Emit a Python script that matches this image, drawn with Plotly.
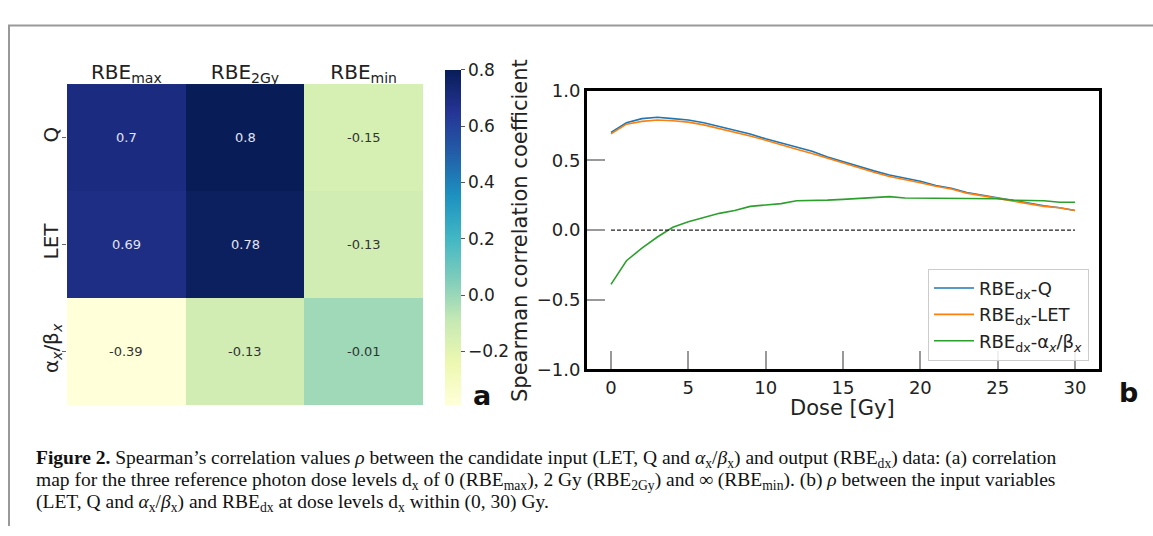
import plotly.graph_objects as go
import plotly.express as px

W, H = 1153, 536

# ---------------- data ----------------
heat_cols = ["RBE<sub>max</sub>", "RBE<sub>2Gy</sub>", "RBE<sub>min</sub>"]
heat_rows = ["Q", "LET", "α<sub><i>x</i></sub>/β<sub><i>x</i></sub>"]
heat_q = [0.70, 0.80, -0.15]
heat_let = [0.69, 0.78, -0.13]
heat_ab = [-0.39, -0.13, -0.01]
heat_labels = [["0.7", "0.8", "-0.15"], ["0.69", "0.78", "-0.13"], ["-0.39", "-0.13", "-0.01"]]
cbar_ticks = [-0.2, 0.0, 0.2, 0.4, 0.6, 0.8]

doses = list(range(0, 31))
rbe_q = [0.70, 0.77, 0.80, 0.81, 0.80, 0.79, 0.77, 0.745, 0.72, 0.69, 0.655,
         0.625, 0.595, 0.565, 0.525, 0.49, 0.455, 0.425, 0.395, 0.375, 0.35,
         0.32, 0.30, 0.27, 0.25, 0.23, 0.21, 0.195, 0.175, 0.16, 0.14]
rbe_let = [0.69, 0.76, 0.78, 0.79, 0.785, 0.775, 0.755, 0.73, 0.70, 0.675, 0.645,
           0.61, 0.58, 0.55, 0.515, 0.48, 0.45, 0.415, 0.385, 0.365, 0.34,
           0.315, 0.295, 0.265, 0.245, 0.225, 0.205, 0.19, 0.17, 0.16, 0.14]
rbe_ab = [-0.39, -0.22, -0.13, -0.05, 0.02, 0.06, 0.09, 0.12, 0.14, 0.17, 0.18,
          0.19, 0.21, 0.21, 0.215, 0.22, 0.225, 0.23, 0.24, 0.23, 0.23,
          0.23, 0.23, 0.23, 0.23, 0.225, 0.215, 0.215, 0.21, 0.20, 0.20]
line_names = ["RBE<sub>dx</sub>-Q", "RBE<sub>dx</sub>-LET",
              "RBE<sub>dx</sub>-α<sub><i>x</i></sub>/β<sub><i>x</i></sub>"]
line_colors = ["#1f77b4", "#ff7f0e", "#2ca02c"]
y_ticks = [-1.0, -0.5, 0.0, 0.5, 1.0]
x_ticks = [0, 5, 10, 15, 20, 25, 30]

caption_lines = [
    "<b>Figure 2.</b> Spearman’s correlation values <i>ρ</i> between the candidate input (LET, Q and <i>α</i><sub>x</sub>/<i>β</i><sub>x</sub>) and output (RBE<sub>dx</sub>) data: (a) correlation",
    "map for the three reference photon dose levels d<sub>x</sub> of 0 (RBE<sub>max</sub>), 2 Gy (RBE<sub>2Gy</sub>) and ∞ (RBE<sub>min</sub>). (b) <i>ρ</i> between the input variables",
    "(LET, Q and <i>α</i><sub>x</sub>/<i>β</i><sub>x</sub>) and RBE<sub>dx</sub> at dose levels d<sub>x</sub> within (0, 30) Gy.",
]


def px_x(p):
    return p / W


def px_y(p):
    return 1 - p / H


z = [heat_q, heat_let, heat_ab]
zmin = min(min(r) for r in z)
zmax = max(max(r) for r in z)

fig = go.Figure()

fig.add_trace(go.Heatmap(
    z=z, x=heat_cols, y=heat_rows,
    colorscale=px.colors.sequential.YlGnBu,
    zmin=zmin, zmax=zmax,
    xaxis="x", yaxis="y",
    hoverinfo="skip",
    colorbar=dict(
        x=px_x(445), xanchor="left", y=px_y(410), yanchor="bottom",
        xpad=0, ypad=0,
        lenmode="pixels", len=335, thickness=16,
        thicknessmode="pixels", outlinewidth=0,
        tickvals=cbar_ticks, tickformat=".1f",
        ticks="outside", ticklen=4, tickcolor="#555", tickwidth=1,
        tickfont=dict(size=17, color="#222", family="DejaVu Sans"),
    ),
))

annotations = []
for i, r in enumerate(heat_rows):
    for j, c in enumerate(heat_cols):
        v = z[i][j]
        col = "#e4e4f2" if v > 0.3 else "#333333"
        annotations.append(dict(x=c, y=r, xref="x", yref="y", text=heat_labels[i][j],
                                showarrow=False, font=dict(size=13, color=col, family="DejaVu Sans")))

for name, vals, colr in zip(line_names, [rbe_q, rbe_let, rbe_ab], line_colors):
    fig.add_trace(go.Scatter(x=doses, y=vals, mode="lines", name=name,
                             line=dict(color=colr, width=1.6),
                             xaxis="x2", yaxis="y2"))

fig.add_trace(go.Scatter(x=[doses[0], doses[-1]], y=[0, 0], mode="lines",
                         line=dict(color="#222", width=1.2, dash="4px,2px"),
                         showlegend=False, xaxis="x2", yaxis="y2", hoverinfo="skip"))

# axis titles and panel letters (pixel positions)
extra = [
    (520, 229, "Spearman correlation coefficient", 21, -90, "#222"),
    (842, 413, "Dose [Gy]", 21, 0, "#222"),
    (482, 400, "<b>a</b>", 27, 0, "#111"),
    (1128, 397, "<b>b</b>", 27, 0, "#111"),
]
for xp, yp, txt, sz, ang, colr in extra:
    annotations.append(dict(x=px_x(xp), y=px_y(yp), xref="paper", yref="paper",
                            xanchor="center", yanchor="middle", text=txt, textangle=ang,
                            showarrow=False, borderpad=0, font=dict(size=sz, color=colr)))

for k, line in enumerate(caption_lines):
    annotations.append(dict(x=px_x(35), y=px_y(466 + 23 * k), xref="paper", yref="paper",
                            xanchor="left", yanchor="middle", align="left", showarrow=False,
                            borderpad=0,
                            text=line, font=dict(size=19.5, color="#111", family="Liberation Serif")))

shapes = [
    dict(type="path", xref="paper", yref="paper",
         path=f"M {px_x(9)} 0 L {px_x(9)} {px_y(15)} L 1 {px_y(15)}",
         line=dict(color="#999999", width=2)),
]

fig.update_layout(
    width=W, height=H, autosize=False,
    margin=dict(l=0, r=0, t=0, b=0),
    paper_bgcolor="white", plot_bgcolor="white",
    font=dict(family="DejaVu Sans", color="#222"),
    annotations=annotations, shapes=shapes,
    xaxis=dict(domain=[px_x(67), px_x(423)], side="top", anchor="y",
               showgrid=False, zeroline=False, ticks="",
               tickfont=dict(size=20, color="#222")),
    yaxis=dict(domain=[px_y(410), px_y(76)], autorange="reversed", anchor="x",
               showgrid=False, zeroline=False, ticks="outside", ticklen=4,
               tickcolor="#666", tickangle=-90, ticklabelstandoff=-4,
               tickfont=dict(size=20, color="#222")),
    xaxis2=dict(domain=[px_x(587), px_x(1099)], anchor="y2", range=[-1.55, 31.55],
                tickvals=x_ticks, ticks="inside", ticklen=18, tickcolor="#999", tickwidth=1.5,
                showline=True, linecolor="black", linewidth=3, mirror=True,
                showgrid=False, zeroline=False,
                tickfont=dict(size=18, color="#222")),
    yaxis2=dict(domain=[px_y(373), px_y(83)], anchor="x2", range=[-1.0, 1.0],
                tickvals=y_ticks, tickformat=".1f", ticks="inside", ticklen=18,
                tickcolor="#999", tickwidth=1.5,
                showline=True, linecolor="black", linewidth=3, mirror=True,
                showgrid=False, zeroline=False,
                tickfont=dict(size=18, color="#222")),
    legend=dict(x=px_x(1089), xanchor="right", y=px_y(364), yanchor="bottom",
                bgcolor="rgba(255,255,255,0.85)", bordercolor="#cccccc", borderwidth=1,
                itemwidth=40,
                font=dict(size=18, color="#222")),
    showlegend=True,
)

fig.write_html("out.html")
